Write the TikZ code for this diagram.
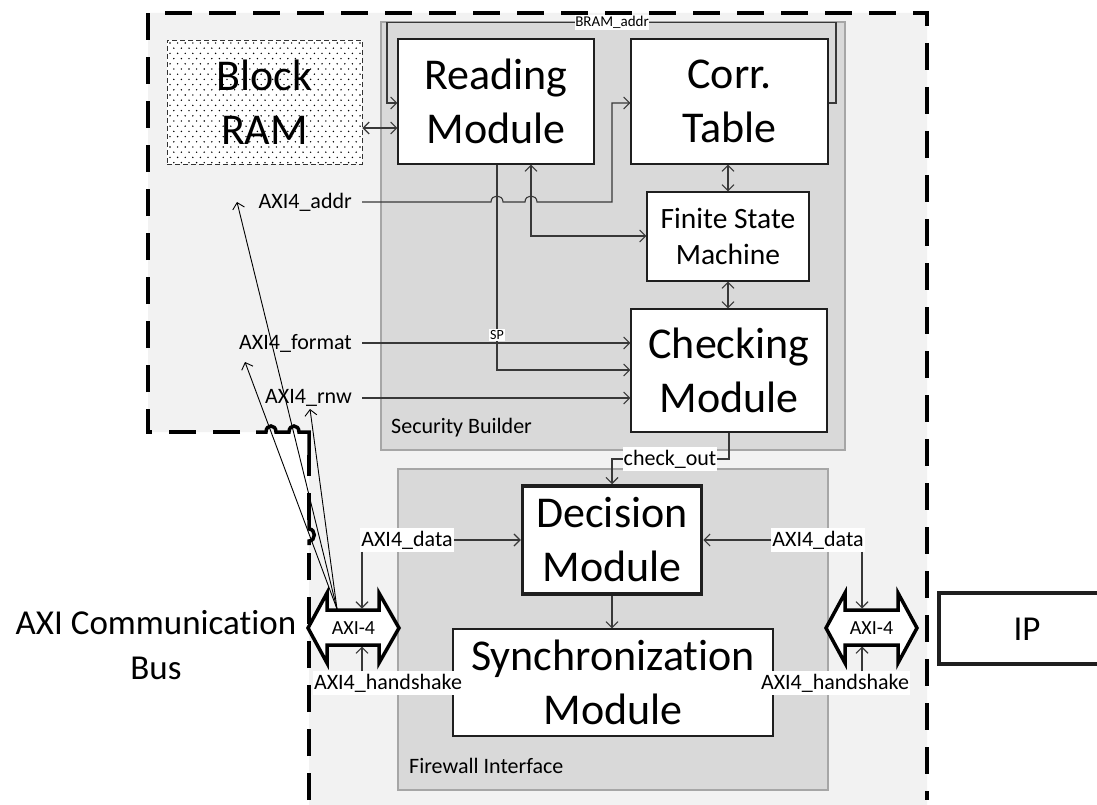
\documentclass[tikz,border=0pt]{standalone}
\usepackage{fontspec}
\setmainfont{Carlito}[RawFeature={-liga}]
\usetikzlibrary{arrows.meta,calc}
\definecolor{outerbg}{HTML}{F2F2F2}
\definecolor{panel}{HTML}{D9D9D9}
\definecolor{panelline}{HTML}{A6A6A6}
\definecolor{wire}{HTML}{383838}
\begin{document}
\begin{tikzpicture}[x=1pt,y=-1pt,
  module/.style={draw=black!88, line width=1.1pt, fill=white, align=center, inner sep=0pt, font=\fontsize{44}{54}\selectfont},
  panelbox/.style={draw=panelline, line width=1.1pt, fill=panel, inner sep=0pt},
  wirel/.style={draw=wire, line width=1.1pt},
  thinl/.style={draw=black, line width=0.9pt},
  tip/.style={-{Straight Barb[length=6pt,width=12pt]}},
  tips/.style={{Straight Barb[length=6pt,width=12pt]}-{Straight Barb[length=6pt,width=12pt]}},
  tag/.style={fill=white, inner xsep=1pt, inner ysep=2.5pt, font=\fontsize{22}{26}\selectfont},
  sig/.style={inner sep=0pt, font=\fontsize{22}{26}\selectfont},
  busarrow/.style={draw=black, line width=3.5pt, fill=white, line join=miter},
  boundary/.style={draw=black, line width=3.5pt, dash pattern=on 27pt off 17pt},
  boundsolid/.style={draw=black, line width=3.5pt}
]
\useasboundingbox (0,0) rectangle (1097,805);

% outer region
\fill[outerbg] (148,13) -- (927,13) -- (927,805) -- (309,805) -- (309,432) -- (148,432) -- cycle;

% panels
\node[panelbox, minimum width=464, minimum height=428] (sb) at (613,236) {};
\node[panelbox, minimum width=430, minimum height=321] (fw) at (613,629.5) {};
\node[sig, anchor=west] (sblabel) at (391,428) {Security Builder};
\node[sig, anchor=west] (fwlabel) at (409,766) {Firewall Interface};

% modules
\node[draw=black!80, dash pattern=on 5pt off 3pt, line width=0.9pt, fill=white,
  minimum width=195, minimum height=124, align=center, inner sep=0pt,
  font=\fontsize{44}{54}\selectfont,
  path picture={\foreach \r in {0,...,23}{\foreach \c in {0,...,25}{
     \fill[black] ($(path picture bounding box.north west)+({3+7.6*\c+3.8*mod(\r,2)},{3+5.2*\r})$) circle[radius=0.8pt];}}}
  ] (bram) at (264.5,102) {Block\\RAM};
\node[module, minimum width=196, minimum height=125] (read) at (496,101.5) {Reading\\Module};
\node[module, minimum width=197, minimum height=125] (corr) at (729.5,101.5) {Corr.\\Table};
\node[module, minimum width=162, minimum height=89, font=\fontsize{29.5}{36}\selectfont] (fsm) at (728,236.5) {Finite State\\Machine};
\node[module, minimum width=196, minimum height=123] (check) at (729,370.5) {Checking\\Module};
\node[module, line width=3.5pt, minimum width=179, minimum height=108] (dec) at (612,540) {Decision\\Module};
\node[module, minimum width=320, minimum height=107] (sync) at (613,682.5) {Synchronization\\Module};
\node[module, line width=3.5pt, minimum width=200, minimum height=71, anchor=west] (ip) at (937,628.5) {};
\node[font=\fontsize{35}{42}\selectfont, inner sep=0pt] (iptext) at (1027,629) {IP};

\node[font=\fontsize{35}{45}\selectfont, align=center, inner sep=0pt] (bus) at (156,645) {AXI Communication\\Bus};

% Security Builder wiring
\draw[wirel, tips] (bram.east |- 0,128) -- (read.west |- 0,128);
\draw[wirel, tip] (corr.east |- 0,103) -- (836,103) -- (836,22.7) -- (387,22.7) -- (387,103) -- (read.west |- 0,103);
\node[fill=white, inner xsep=0.5pt, inner ysep=1pt, font=\fontsize{15}{18}\selectfont] (bramaddr) at (612,22.7) {BRAM\_addr};

\node[sig, anchor=east] (laddr) at (352,202) {AXI4\_addr};
\draw[wirel, tip] ($(laddr.east)+(10,0)$) -- (491,202) .. controls (491,194) and (503,194) .. (503,202)
   -- (525,202) .. controls (525,194) and (537,194) .. (537,202) -- (612,202) -- (612,103) -- (corr.west |- 0,103);

\draw[wirel, tip] (read.south -| 497,0) -- (497,370) -- (check.west |- 0,370);
\draw[wirel, tips] (read.south -| 531,0) -- (531,236) -- (fsm.west |- 0,236);
\draw[wirel, tips] (corr.south -| fsm.north) -- (fsm.north);
\draw[wirel, tips] (fsm.south) -- (check.north -| fsm.south);

\node[sig, anchor=east] (lformat) at (352,343) {AXI4\_format};
\draw[wirel, tip] ($(lformat.east)+(10,0)$) -- (check.west |- 0,343);
\node[fill=white, inner xsep=1pt, inner ysep=1.5pt, font=\fontsize{14}{16}\selectfont] (sp) at (497,335) {SP};

\node[sig, anchor=east] (lrnw) at (352,398) {AXI4\_rnw};
\draw[wirel, tip] ($(lrnw.east)+(10,0)$) -- (check.west |- 0,398);

% check_out
\draw[wirel, tip] (check.south) -- (check.south |- 0,459) -| (dec.north);
\node[tag] (chk) at (670,459) {check\_out};

% Firewall wiring
\draw[wirel, tip] (dec.south) -- (sync.north -| dec.south);

\coordinate (axiLtop) at (362,608.5);
\coordinate (axiLbot) at (362,646.5);
\coordinate (axiRtop) at (862,608.5);
\coordinate (axiRbot) at (862,646.5);

\node[tag] (ldata) at (407,540) {AXI4\_data};
\draw[wirel, tip] (ldata.east) -- (dec.west |- ldata.east);
\draw[wirel, tip] (ldata.south -| axiLtop) -- (axiLtop);
\node[tag] (lhs) at (388,683) {AXI4\_handshake};
\draw[wirel, tip] (lhs.north -| axiLbot) -- (axiLbot);

\node[tag] (rdata) at (818,540) {AXI4\_data};
\draw[wirel, tip] (rdata.west) -- (dec.east |- rdata.west);
\draw[wirel, tip] (rdata.south -| axiRtop) -- (axiRtop);
\node[tag] (rhs) at (835,683) {AXI4\_handshake};
\draw[wirel, tip] (rhs.north -| axiRbot) -- (axiRbot);

% outer dashed boundary with hops
\draw[boundary] (309,800) -- (309,545);
\draw[boundsolid] (309,545) -- (309,541) .. controls (316,541) and (316,529) .. (309,529) -- (309,520);
\draw[boundary] (309,520) -- (309,455);
\draw[boundsolid, line join=miter] (309,455) -- (309,432) -- (299,432) .. controls (299,424) and (289,424) .. (289,432)
   -- (276,432) .. controls (276,424) and (266,424) .. (266,432) -- (256,432);
\draw[boundary] (240,432) -- (148,432) -- (148,13) -- (927,13) -- (927,800);

% AXI-4 bus arrows
\draw[busarrow] (308,628) -- (327,593) -- (327,610) -- (379,610) -- (379,593) -- (399,628)
   -- (379,663) -- (379,645) -- (327,645) -- (327,663) -- cycle;
\node[font=\fontsize{20}{24}\selectfont, inner sep=0pt] (axiL) at (353.5,628) {AXI-4};
\draw[busarrow] (826,628) -- (845,593) -- (845,610) -- (898,610) -- (898,593) -- (917,628)
   -- (898,663) -- (898,645) -- (845,645) -- (845,663) -- cycle;
\node[font=\fontsize{20}{24}\selectfont, inner sep=0pt] (axiR) at (871.5,628) {AXI-4};

% slanted signal lines from the bus
\coordinate (busL) at (337,609);
\coordinate (taddr) at (237,202);
\coordinate (tformat) at (245,362);
\coordinate (trnw) at (310,409);
\draw[thinl, tip] (busL) -- (taddr);
\draw[thinl, tip] (busL) -- (tformat);
\draw[thinl, tip] (busL) -- (trnw);
\end{tikzpicture}
\end{document}
